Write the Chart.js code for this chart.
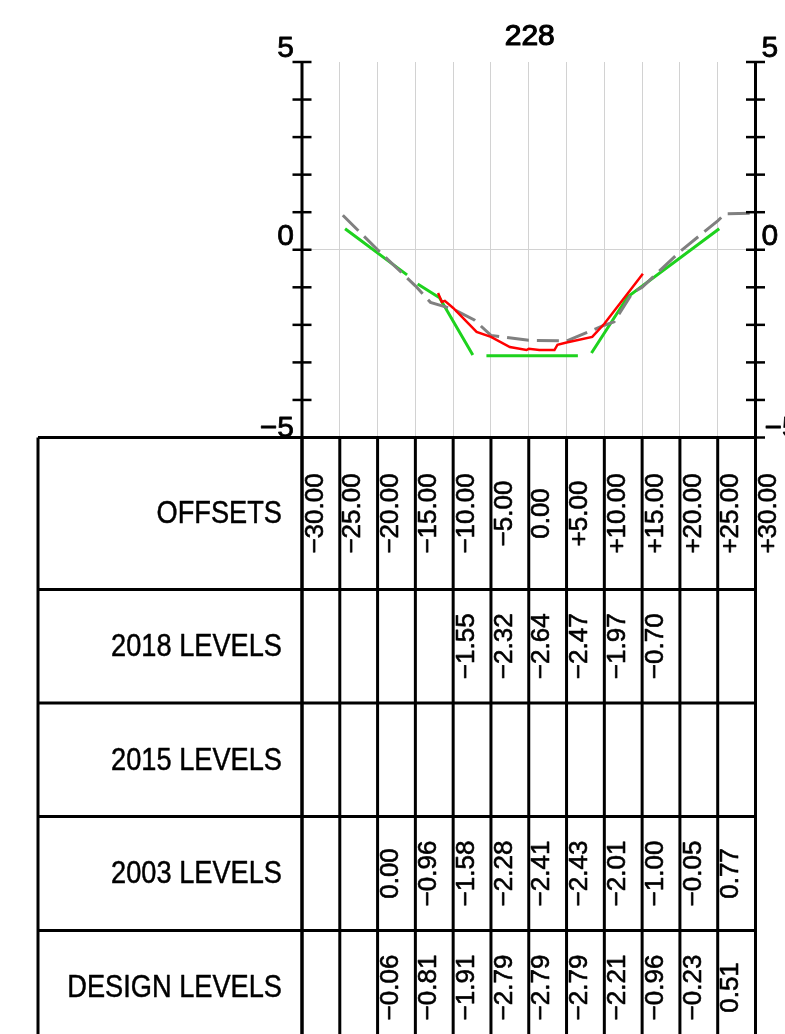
<!DOCTYPE html>
<html>
<head>
<meta charset="utf-8">
<script src="https://cdn.jsdelivr.net/npm/chart.js@4.4.1/dist/chart.umd.min.js"></script>
<style>
  html, body { margin: 0; padding: 0; background: #fff; }
  canvas { display: block; }
</style>
</head>
<body>
<canvas id="myChart" width="785" height="1034"></canvas>
<script>
// section 228 - offsets and levels (table)
var sectionName = "228";
var offsets = [-30, -25, -20, -15, -10, -5, 0, 5, 10, 15, 20, 25, 30];
var rowNames = ["OFFSETS", "2018 LEVELS", "2015 LEVELS", "2003 LEVELS", "DESIGN LEVELS"];
var levels2018 = [null, null, null, null, -1.55, -2.32, -2.64, -2.47, -1.97, -0.70, null, null, null];
var levels2015 = [null, null, null, null, null, null, null, null, null, null, null, null, null];
var levels2003 = [null, null, 0.00, -0.96, -1.58, -2.28, -2.41, -2.43, -2.01, -1.00, -0.05, 0.77, null];
var levelsDesign = [null, null, -0.06, -0.81, -1.91, -2.79, -2.79, -2.79, -2.21, -0.96, -0.23, 0.51, null];

var profile2018 = [[-12.0, -1.15], [-11.5, -1.39], [-11.1, -1.36], [-10, -1.55], [-6.9, -2.19], [-5, -2.32],
  [-2.5, -2.59], [-0.3, -2.67], [0, -2.64], [1.4, -2.67], [3.4, -2.67], [3.8, -2.53], [5, -2.47],
  [8.4, -2.32], [10, -1.97], [15.1, -0.64]];
var profile2003 = [[-24.6, 0.92], [-20, 0.00], [-15, -0.96], [-13.0, -1.40], [-10, -1.58], [-7.2, -1.87],
  [-5, -2.28], [0, -2.41], [5, -2.43], [10, -2.01], [11.3, -1.92], [13.7, -1.15], [15, -1.00],
  [20, -0.05], [25, 0.77], [26, 0.96], [29.5, 0.97]];
// design template, null = break in the line
var profileDesign = [[-24.3, 0.56], [-16.1, -0.67], [-15.4, null], [-14.7, -0.91], [-11.8, -1.28], [-7.4, -2.80],
  [-6.5, null], [-5.6, -2.82], [6.5, -2.82], [7.4, null], [8.3, -2.75], [13.1, -1.25], [25.2, 0.56]];

var toPoints = function(arr) {
  return arr.map(function(p) { return { x: p[0], y: p[1] }; });
};
var fmtOffset = function(v) {
  if (v === 0) return "0.00";
  return (v > 0 ? "+" : "\u2212") + Math.abs(v).toFixed(2);
};
var fmtLevel = function(v) {
  if (v === null) return "";
  return (v < 0 ? "\u2212" : "") + Math.abs(v).toFixed(2);
};
// text a touch heavier, like the plotted drawing
var heavyText = function(ctx, txt, x, y, w) {
  ctx.lineWidth = w || 0.6;
  ctx.strokeText(txt, x, y);
  ctx.fillText(txt, x, y);
};

var sectionPlugin = {
  id: "sectionTable",
  afterDraw: function(chart) {
    var ctx = chart.ctx;
    var xs = chart.scales.x, ys = chart.scales.y;
    var area = chart.chartArea;
    var H = chart.height;
    ctx.save();
    ctx.fillStyle = "#000";
    ctx.strokeStyle = "#000";
    ctx.lineJoin = "round";

    // title
    ctx.font = "30px 'Liberation Sans', Arial, sans-serif";
    ctx.textAlign = "center";
    ctx.textBaseline = "alphabetic";
    heavyText(ctx, sectionName, xs.getPixelForValue(0) + 1, 45, 1.2);

    // both vertical axes, running on down as table columns
    [area.left, area.right].forEach(function(x) {
      ctx.lineWidth = 3;
      ctx.beginPath();
      ctx.moveTo(x, area.top);
      ctx.lineTo(x, H);
      ctx.stroke();
      ctx.lineWidth = 2.5;
      ys.ticks.forEach(function(t) {
        var y = ys.getPixelForValue(t.value);
        ctx.beginPath();
        ctx.moveTo(x - 9.5, y);
        ctx.lineTo(x + 9.5, y);
        ctx.stroke();
      });
    });

    // axis labels 5, 0, -5
    ctx.font = "30px 'Liberation Sans', Arial, sans-serif";
    [5, 0, -5].forEach(function(v) {
      var y = ys.getPixelForValue(v) - (v === -5 ? 1 : 5);
      var txt = (v < 0 ? "\u2212" : "") + Math.abs(v);
      ctx.textAlign = "right";
      heavyText(ctx, txt, area.left - 8, y, 0.8);
      ctx.textAlign = "left";
      heavyText(ctx, txt, area.right + (v < 0 ? 9 : 6), y, 0.8);
    });

    // table
    var tableLeft = 38;
    var top = area.bottom;
    var rowEdges = [top, top + 152, top + 265.5, top + 379, top + 493, top + 607];
    ctx.lineWidth = 3;
    rowEdges.forEach(function(y) {
      ctx.beginPath();
      ctx.moveTo(tableLeft, y);
      ctx.lineTo(area.right, y);
      ctx.stroke();
    });
    ctx.beginPath();
    ctx.moveTo(tableLeft, top);
    ctx.lineTo(tableLeft, H);
    ctx.stroke();
    offsets.forEach(function(o) {
      var x = xs.getPixelForValue(o);
      ctx.beginPath();
      ctx.moveTo(x, top);
      ctx.lineTo(x, H);
      ctx.stroke();
    });

    // row names, narrow lettering
    ctx.font = "32px 'Liberation Sans', Arial, sans-serif";
    ctx.textAlign = "right";
    ctx.textBaseline = "middle";
    rowNames.forEach(function(name, r) {
      var cy = (rowEdges[r] + rowEdges[r + 1]) / 2;
      ctx.save();
      ctx.translate(282, cy + 1);
      ctx.scale(0.85, 1);
      heavyText(ctx, name, 0, 0, 0.5);
      ctx.restore();
    });

    // rotated cell values
    var rows = [offsets.map(fmtOffset), levels2018.map(fmtLevel), levels2015.map(fmtLevel),
      levels2003.map(fmtLevel), levelsDesign.map(fmtLevel)];
    ctx.font = "26px 'Liberation Sans', Arial, sans-serif";
    ctx.textAlign = "center";
    rows.forEach(function(vals, r) {
      var cy = (rowEdges[r] + rowEdges[r + 1]) / 2;
      vals.forEach(function(txt, i) {
        if (!txt) return;
        var cx = xs.getPixelForValue(offsets[i]) + 12.5;
        ctx.save();
        ctx.translate(cx, cy);
        ctx.rotate(-Math.PI / 2);
        heavyText(ctx, txt, 0, 1, 0.6);
        ctx.restore();
      });
    });
    ctx.restore();
  }
};

var ctx = document.getElementById("myChart").getContext("2d");
var chart = new Chart(ctx, {
  type: "line",
  data: {
    datasets: [{
      label: "2018 LEVELS",
      data: toPoints(profile2018),
      borderColor: "#ff0000",
      borderWidth: 2.5,
      pointRadius: 0,
      tension: 0,
      order: 1
    }, {
      label: "2003 LEVELS",
      data: toPoints(profile2003),
      borderColor: "#808080",
      borderWidth: 3,
      borderDash: [22, 8],
      pointRadius: 0,
      tension: 0,
      order: 2
    }, {
      label: "DESIGN LEVELS",
      data: toPoints(profileDesign),
      borderColor: "#1ed21e",
      borderWidth: 3,
      pointRadius: 0,
      tension: 0,
      spanGaps: false,
      order: 3
    }]
  },
  options: {
    responsive: false,
    animation: false,
    devicePixelRatio: 1,
    layout: {
      padding: { left: 302, right: 29.5, top: 62, bottom: 596.5 }
    },
    plugins: {
      legend: { display: false },
      tooltip: { enabled: false }
    },
    scales: {
      x: {
        type: "linear",
        min: -30,
        max: 30,
        ticks: { display: false, stepSize: 5 },
        grid: { color: "#d2d2d2", lineWidth: 1, drawTicks: false },
        border: { display: false },
        afterFit: function(s) { s.height = 0; }
      },
      y: {
        type: "linear",
        min: -5,
        max: 5,
        ticks: { display: false, stepSize: 1 },
        grid: {
          drawTicks: false,
          lineWidth: 1,
          color: function(c) { return c.tick && c.tick.value === 0 ? "#d2d2d2" : "rgba(0,0,0,0)"; }
        },
        border: { display: false },
        afterFit: function(s) { s.width = 0; }
      }
    }
  },
  plugins: [sectionPlugin]
});
</script>
</body>
</html>
